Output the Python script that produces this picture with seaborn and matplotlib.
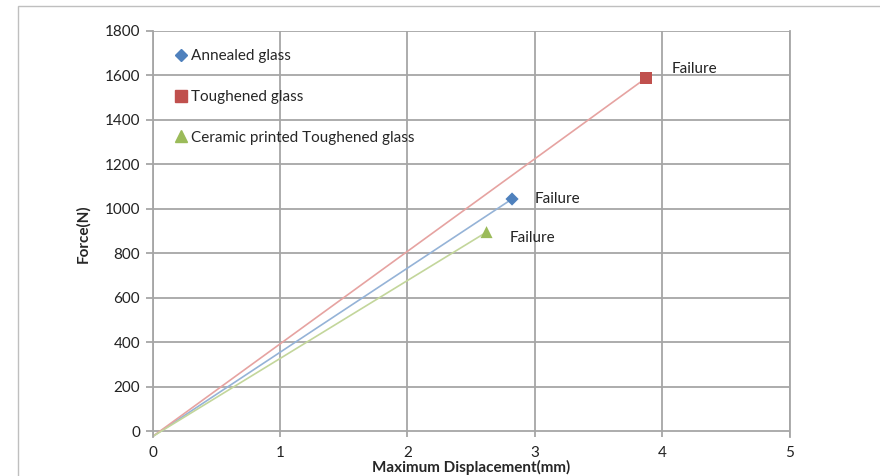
import numpy as np
import pandas as pd
import seaborn as sns
import matplotlib.pyplot as plt
from matplotlib.patches import Rectangle

series = ["Annealed glass", "Toughened glass", "Ceramic printed Toughened glass"]
start_disp = [0.0, 0.0, 0.0]
start_force = [-25, -25, -25]
failure_disp = [2.82, 3.87, 2.62]
failure_force = [1044, 1588, 895]
failure_label = "Failure"

marker_colors = ["#4F81BD", "#C0504D", "#9BBB59"]
line_colors = ["#95B3D7", "#E6A3A1", "#C3D69B"]
markers = ["D", "s", "^"]
marker_sizes = [45, 80, 75]

lines = pd.DataFrame({
    "series": series * 2,
    "disp": start_disp + failure_disp,
    "force": start_force + failure_force,
})
points = pd.DataFrame({"series": series, "disp": failure_disp, "force": failure_force})

sns.set_style("white")
plt.rcParams["font.family"] = ["Lato", "DejaVu Sans"]

fig = plt.figure(figsize=(8.8, 4.76), dpi=100)
ax = fig.add_axes([0.1733, 0.0819, 0.7244, 0.853])

sns.lineplot(data=lines, x="disp", y="force", hue="series", hue_order=series,
             palette=line_colors, linewidth=1.2, legend=False, ax=ax)

handles = []
for i, name in enumerate(series):
    sub = points[points["series"] == name]
    sns.scatterplot(data=sub, x="disp", y="force", marker=markers[i], s=marker_sizes[i],
                    color=marker_colors[i], edgecolor="none", ax=ax, zorder=5)
    handles.append(plt.Line2D([], [], linestyle="none", marker=markers[i],
                              markersize=[6, 8, 8][i], color=marker_colors[i], label=name))

# Failure annotations
offsets = [(0.18, 0), (0.2, 40), (0.18, -25)]
for i in range(3):
    ax.text(failure_disp[i] + offsets[i][0], failure_force[i] + offsets[i][1], failure_label,
            fontsize=11, va="center", ha="left", color="#222222")

ax.set_xlim(0, 5)
ax.set_ylim(-27, 1800)
ax.set_xticks(np.arange(0, 6, 1))
ax.set_yticks(np.arange(0, 1801, 200))
ax.grid(True, color="#A6A6A6", linewidth=1.3)
ax.set_axisbelow(True)

for side in ["top", "bottom"]:
    ax.spines[side].set_visible(False)
for side in ["left", "right"]:
    ax.spines[side].set_color("#A6A6A6")
    ax.spines[side].set_linewidth(1.3)

ax.tick_params(axis="y", which="both", left=True, length=5, color="#A6A6A6", width=1.3,
               labelsize=11, pad=4, labelcolor="#222222")
ax.tick_params(axis="x", which="both", bottom=False, labelsize=11, pad=3, labelcolor="#222222")

ax.set_xlabel("Maximum Displacement(mm)", fontsize=11, fontweight="bold", labelpad=0)
ax.set_ylabel("Force(N)", fontsize=11, fontweight="bold", labelpad=10)

leg = ax.legend(handles=handles, loc="upper left", frameon=False, fontsize=11,
                labelspacing=1.75, handletextpad=0.0, handlelength=1.3,
                borderaxespad=0.0, bbox_to_anchor=(0.02, 0.97))

fig.patches.append(Rectangle((18 / 880, -0.1), 1.0, 1.087, transform=fig.transFigure,
                             fill=False, edgecolor="#BFBFBF", linewidth=1.0))

fig.savefig("out.png", dpi=100)
